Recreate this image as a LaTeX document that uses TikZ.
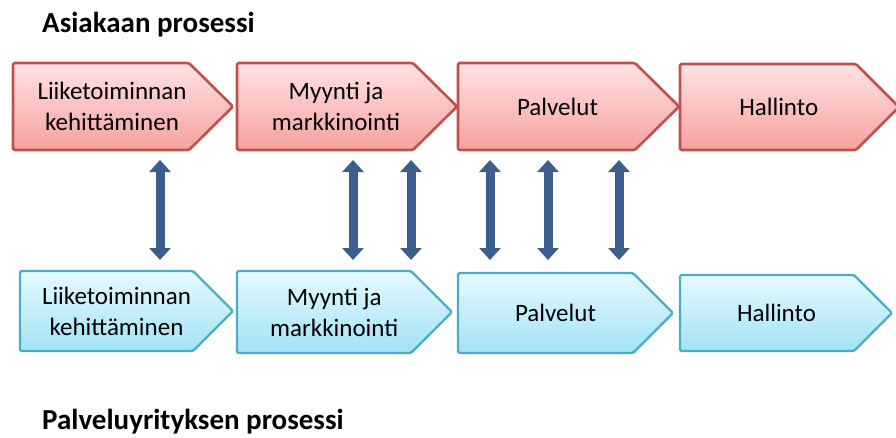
\documentclass[tikz,border=0pt]{standalone}
\usepackage{fontspec}
\setmainfont{Carlito}
\usetikzlibrary{arrows.meta}

\definecolor{redline}{HTML}{C0504D}
\definecolor{redtop}{HTML}{FFE3E3}
\definecolor{redbot}{HTML}{F6A19F}
\definecolor{blueline}{HTML}{4BACC6}
\definecolor{bluetop}{HTML}{E6FAFF}
\definecolor{bluebot}{HTML}{A2E2F6}
\definecolor{linkblue}{HTML}{3B5E8D}

\tikzset{
  redchev/.style={draw=redline, line width=2.6pt, top color=redtop, bottom color=redbot,
    rounded corners=1.5pt, line join=round},
  bluechev/.style={draw=blueline, line width=2.4pt, top color=bluetop, bottom color=bluebot,
    rounded corners=1.5pt, line join=round},
  lbl/.style={font=\fontsize{25}{31}\selectfont, align=center, text=black, inner sep=0pt},
  ttl/.style={font=\fontsize{29}{34}\selectfont\bfseries, anchor=base west, inner sep=0pt},
  link/.style={line width=9pt, draw=linkblue,
    {Triangle[width=21pt,length=12pt]}-{Triangle[width=21pt,length=12pt]}}
}

% chevron step: style, name, left, top, bottom, tip x, slant, text
\newcommand\procstep[8]{%
  \path[#1] (#3,#4) -- ({#6-#7},#4) -- (#6,{(#4+#5)/2}) -- ({#6-#7},#5) -- (#3,#5) -- cycle;
  \node[lbl] (#2) at ({(#3+#6-#7/2)/2},{(#4+#5)/2}) {#8};}

\begin{document}
\begin{tikzpicture}[x=1pt,y=-1pt]
  \useasboundingbox (0,0) rectangle (896,437);

  % titles
  \node[ttl] (title1) at (42,32) {Asiakaan prosessi};
  \node[ttl] (title2) at (42,429) {Palveluyrityksen prosessi};

  % customer process
  \procstep{redchev}{t1}{13}{63}{150}{233}{44}{Liiketoiminnan\\kehittäminen}
  \procstep{redchev}{t2}{237}{63}{150}{457}{44}{Myynti ja\\markkinointi}
  \procstep{redchev}{t3}{458}{63}{150}{679}{44}{Palvelut}
  \procstep{redchev}{t4}{680}{64}{150}{899}{43}{Hallinto}

  % service company process
  \procstep{bluechev}{b1}{20}{271}{351}{233}{40}{Liiketoiminnan\\kehittäminen}
  \procstep{bluechev}{b2}{237}{271}{353}{452}{41}{Myynti ja\\markkinointi}
  \procstep{bluechev}{b3}{458}{273}{353}{673}{40}{Palvelut}
  \procstep{bluechev}{b4}{680}{275}{351}{892}{38}{Hallinto}

  % links between the two processes
  \foreach \i/\x in {1/160,2/353,3/411,4/490,5/548,6/619}{
    \coordinate (u\i) at (\x,160);
    \coordinate (d\i) at (\x,260);
    \draw[link] (u\i) -- (d\i);
  }
\end{tikzpicture}
\end{document}
